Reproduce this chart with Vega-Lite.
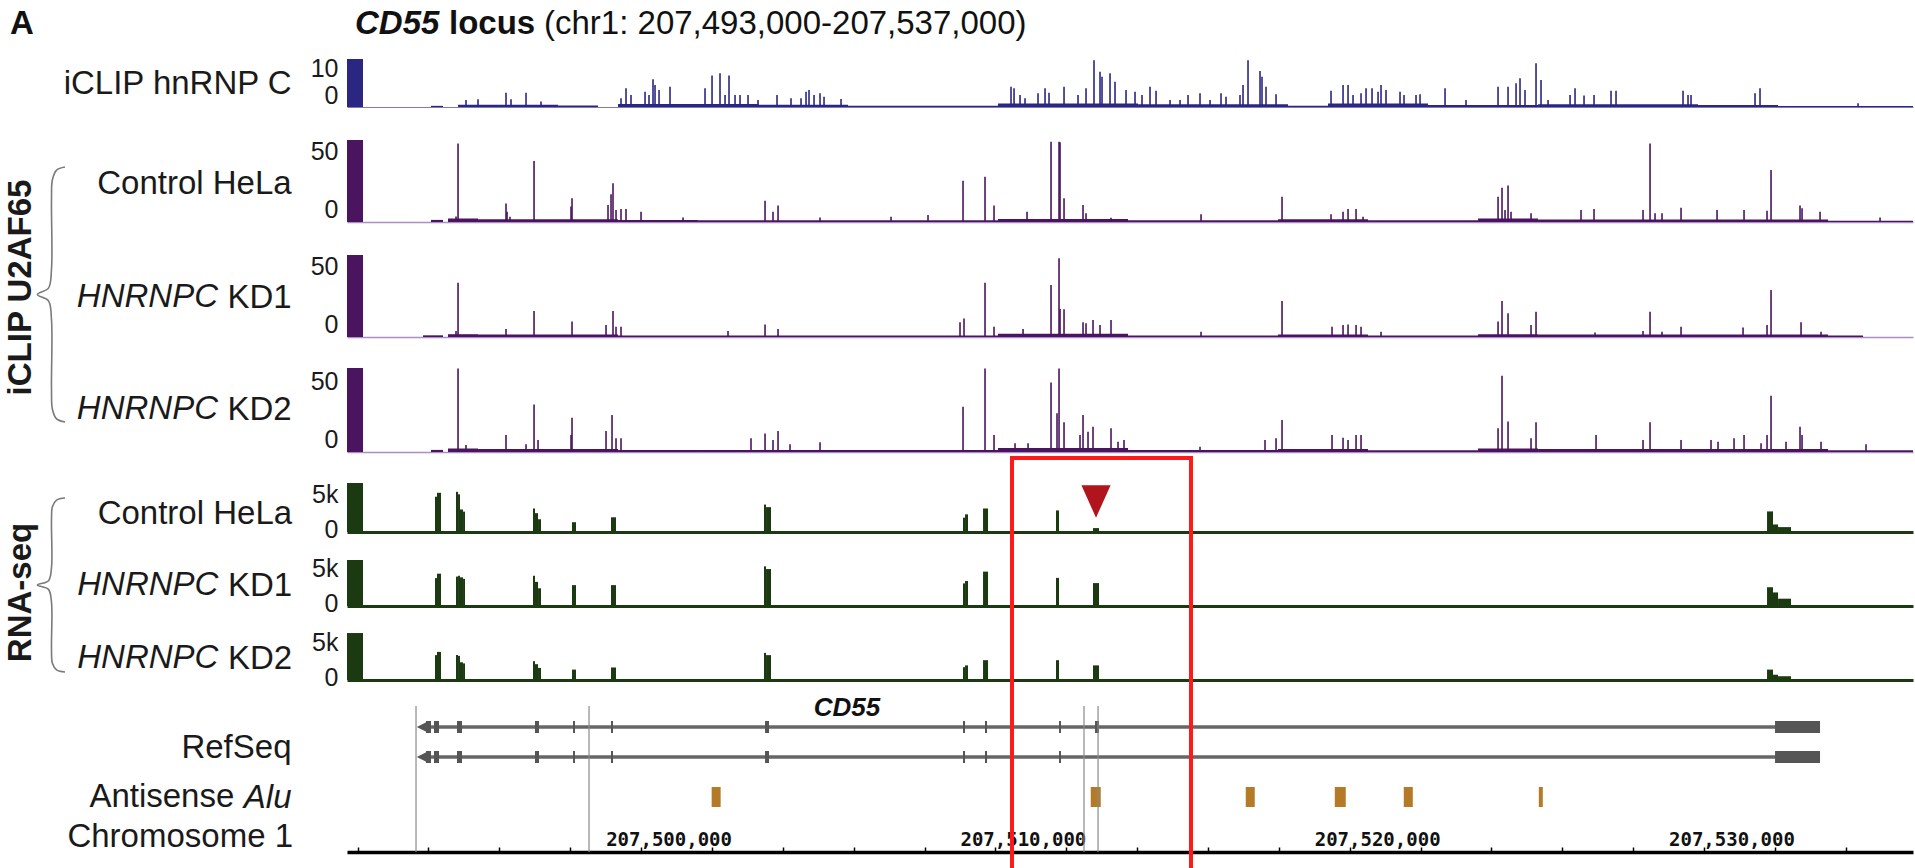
{
"$schema": "https://vega.github.io/schema/vega-lite/v6.json",
"background": "white",
"padding": {"left": 4, "top": 8, "right": 0, "bottom": 0},
"datasets": {
"spk": [
{"t":"h","p":207496059,"v":1.8},{"t":"h","p":207496398,"v":2.0},{"t":"h","p":207497188,"v":3.7},{"t":"h","p":207497329,"v":2.0},{"t":"h","p":207497753,"v":3.7},{"t":"h","p":207498176,"v":1.4},{"t":"h","p":207500434,"v":2.3},{"t":"h","p":207500575,"v":4.9},{"t":"h","p":207500716,"v":3.1},{"t":"h","p":207501112,"v":4.0},{"t":"h","p":207501224,"v":3.1},{"t":"h","p":207501337,"v":7.2},{"t":"h","p":207501394,"v":5.7},{"t":"h","p":207501507,"v":4.4},{"t":"h","p":207501817,"v":5.3},{"t":"h","p":207502805,"v":4.9},{"t":"h","p":207503003,"v":8.2},{"t":"h","p":207503228,"v":8.8},{"t":"h","p":207503370,"v":3.1},{"t":"h","p":207503482,"v":8.2},{"t":"h","p":207503652,"v":3.1},{"t":"h","p":207503793,"v":3.1},{"t":"h","p":207504019,"v":3.1},{"t":"h","p":207504301,"v":1.8},{"t":"h","p":207504837,"v":3.1},{"t":"h","p":207505232,"v":2.3},{"t":"h","p":207505515,"v":2.3},{"t":"h","p":207505656,"v":4.0},{"t":"h","p":207505740,"v":4.4},{"t":"h","p":207505882,"v":3.1},{"t":"h","p":207506051,"v":3.6},{"t":"h","p":207506164,"v":2.7},{"t":"h","p":207506644,"v":2.1},{"t":"h","p":207511442,"v":5.3},{"t":"h","p":207511527,"v":4.9},{"t":"h","p":207511696,"v":3.1},{"t":"h","p":207511837,"v":2.3},{"t":"h","p":207512204,"v":3.6},{"t":"h","p":207512402,"v":4.9},{"t":"h","p":207512514,"v":3.7},{"t":"h","p":207512938,"v":5.3},{"t":"h","p":207513333,"v":3.1},{"t":"h","p":207513559,"v":4.9},{"t":"h","p":207513784,"v":12.2},{"t":"h","p":207513954,"v":9.2},{"t":"h","p":207514010,"v":7.9},{"t":"h","p":207514236,"v":8.8},{"t":"h","p":207514377,"v":6.6},{"t":"h","p":207514688,"v":4.4},{"t":"h","p":207514942,"v":4.0},{"t":"h","p":207515139,"v":3.1},{"t":"h","p":207515365,"v":5.3},{"t":"h","p":207515535,"v":4.2},{"t":"h","p":207515930,"v":1.8},{"t":"h","p":207516212,"v":1.8},{"t":"h","p":207516438,"v":3.1},{"t":"h","p":207516776,"v":3.6},{"t":"h","p":207517059,"v":1.8},{"t":"h","p":207517369,"v":3.6},{"t":"h","p":207517510,"v":2.7},{"t":"h","p":207517905,"v":3.1},{"t":"h","p":207517990,"v":5.7},{"t":"h","p":207518131,"v":12.2},{"t":"h","p":207518470,"v":9.4},{"t":"h","p":207518526,"v":7.9},{"t":"h","p":207518639,"v":5.3},{"t":"h","p":207518922,"v":3.3},{"t":"h","p":207520474,"v":4.2},{"t":"h","p":207520813,"v":5.7},{"t":"h","p":207520954,"v":5.7},{"t":"h","p":207521095,"v":3.1},{"t":"h","p":207521321,"v":3.6},{"t":"h","p":207521462,"v":4.9},{"t":"h","p":207521631,"v":4.9},{"t":"h","p":207521801,"v":4.0},{"t":"h","p":207521885,"v":5.7},{"t":"h","p":207522026,"v":4.4},{"t":"h","p":207522421,"v":4.0},{"t":"h","p":207522534,"v":3.1},{"t":"h","p":207522873,"v":3.1},{"t":"h","p":207522986,"v":3.3},{"t":"h","p":207523692,"v":4.9},{"t":"h","p":207524284,"v":1.8},{"t":"h","p":207525188,"v":5.3},{"t":"h","p":207525470,"v":5.3},{"t":"h","p":207525696,"v":6.2},{"t":"h","p":207525808,"v":7.5},{"t":"h","p":207525949,"v":4.4},{"t":"h","p":207526260,"v":11.4},{"t":"h","p":207526401,"v":7.0},{"t":"h","p":207526599,"v":1.8},{"t":"h","p":207527220,"v":3.1},{"t":"h","p":207527361,"v":4.9},{"t":"h","p":207527615,"v":3.0},{"t":"h","p":207527897,"v":3.1},{"t":"h","p":207528377,"v":4.2},{"t":"h","p":207528518,"v":4.2},{"t":"h","p":207530409,"v":4.2},{"t":"h","p":207530550,"v":3.1},{"t":"h","p":207530635,"v":3.1},{"t":"h","p":207532441,"v":3.6},{"t":"h","p":207532582,"v":4.9},{"t":"h","p":207535349,"v":1.0},
{"t":"c","p":207495777,"v":4},{"t":"c","p":207495834,"v":56},{"t":"c","p":207497188,"v":13.3},{"t":"c","p":207497217,"v":7.4},{"t":"c","p":207497301,"v":3.8},{"t":"c","p":207497979,"v":43.6},{"t":"c","p":207499023,"v":11},{"t":"c","p":207499051,"v":16.9},{"t":"c","p":207500067,"v":12.1},{"t":"c","p":207500152,"v":19.8},{"t":"c","p":207500208,"v":27.6},{"t":"c","p":207500293,"v":8.6},{"t":"c","p":207500434,"v":9.3},{"t":"c","p":207500575,"v":9.3},{"t":"c","p":207500999,"v":7.4},{"t":"c","p":207502184,"v":3.3},{"t":"c","p":207504499,"v":15.2},{"t":"c","p":207504724,"v":7.4},{"t":"c","p":207504866,"v":11.7},{"t":"c","p":207506051,"v":3.3},{"t":"c","p":207508055,"v":3.8},{"t":"c","p":207509099,"v":5},{"t":"c","p":207510087,"v":29.5},{"t":"c","p":207510708,"v":32.4},{"t":"c","p":207510962,"v":11.7},{"t":"c","p":207511894,"v":7.4},{"t":"c","p":207512571,"v":57.4},{"t":"c","p":207512797,"v":57.4},{"t":"c","p":207512825,"v":56.9},{"t":"c","p":207512938,"v":16.9},{"t":"c","p":207513474,"v":12.1},{"t":"c","p":207513559,"v":6.2},{"t":"c","p":207514264,"v":3},{"t":"c","p":207516805,"v":5.5},{"t":"c","p":207519091,"v":18},{"t":"c","p":207520474,"v":5.5},{"t":"c","p":207520813,"v":7.4},{"t":"c","p":207520954,"v":9.3},{"t":"c","p":207521180,"v":9.3},{"t":"c","p":207521377,"v":3.8},{"t":"c","p":207525188,"v":18},{"t":"c","p":207525300,"v":24.5},{"t":"c","p":207525385,"v":8.6},{"t":"c","p":207525470,"v":26},{"t":"c","p":207525554,"v":7.4},{"t":"c","p":207526119,"v":6.2},{"t":"c","p":207527530,"v":8.6},{"t":"c","p":207527897,"v":9.3},{"t":"c","p":207529280,"v":8.6},{"t":"c","p":207529478,"v":56},{"t":"c","p":207529619,"v":6.2},{"t":"c","p":207529816,"v":6.2},{"t":"c","p":207530353,"v":10.2},{"t":"c","p":207531369,"v":8.6},{"t":"c","p":207532131,"v":8.6},{"t":"c","p":207532780,"v":8},{"t":"c","p":207532893,"v":37.1},{"t":"c","p":207533711,"v":11.7},{"t":"c","p":207533768,"v":9.8},{"t":"c","p":207534276,"v":7.4},{"t":"c","p":207535970,"v":3.3},
{"t":"k1","p":207495777,"v":4.3},{"t":"k1","p":207495834,"v":38.8},{"t":"k1","p":207497188,"v":5.7},{"t":"k1","p":207497979,"v":18.6},{"t":"k1","p":207499051,"v":11},{"t":"k1","p":207500011,"v":8.6},{"t":"k1","p":207500208,"v":18.6},{"t":"k1","p":207500293,"v":7.4},{"t":"k1","p":207500434,"v":7.4},{"t":"k1","p":207503454,"v":4.3},{"t":"k1","p":207504499,"v":9},{"t":"k1","p":207504866,"v":5.7},{"t":"k1","p":207510002,"v":10.5},{"t":"k1","p":207510115,"v":13.3},{"t":"k1","p":207510708,"v":38.8},{"t":"k1","p":207510962,"v":7.4},{"t":"k1","p":207511781,"v":5.7},{"t":"k1","p":207512571,"v":37.1},{"t":"k1","p":207512797,"v":56.2},{"t":"k1","p":207512825,"v":20},{"t":"k1","p":207512938,"v":19.8},{"t":"k1","p":207513474,"v":10.5},{"t":"k1","p":207513559,"v":9.8},{"t":"k1","p":207513756,"v":12.1},{"t":"k1","p":207513954,"v":8.6},{"t":"k1","p":207514264,"v":12.1},{"t":"k1","p":207516805,"v":3.8},{"t":"k1","p":207519091,"v":25.7},{"t":"k1","p":207520502,"v":7.4},{"t":"k1","p":207520813,"v":8.6},{"t":"k1","p":207520954,"v":9},{"t":"k1","p":207521180,"v":8.6},{"t":"k1","p":207521321,"v":7.4},{"t":"k1","p":207521885,"v":3.8},{"t":"k1","p":207525188,"v":11},{"t":"k1","p":207525300,"v":25.7},{"t":"k1","p":207525470,"v":16.9},{"t":"k1","p":207526119,"v":8.6},{"t":"k1","p":207526260,"v":18},{"t":"k1","p":207527925,"v":3.3},{"t":"k1","p":207529280,"v":4.3},{"t":"k1","p":207529478,"v":18},{"t":"k1","p":207529816,"v":3.8},{"t":"k1","p":207530353,"v":7.4},{"t":"k1","p":207532103,"v":6.7},{"t":"k1","p":207532780,"v":8.6},{"t":"k1","p":207532893,"v":33.6},{"t":"k1","p":207533740,"v":10.5},{"t":"k1","p":207534304,"v":3.8},
{"t":"k2","p":207495834,"v":59.7},{"t":"k2","p":207496059,"v":5},{"t":"k2","p":207497188,"v":12.1},{"t":"k2","p":207497753,"v":5.5},{"t":"k2","p":207497979,"v":34},{"t":"k2","p":207498092,"v":8.6},{"t":"k2","p":207499023,"v":12.1},{"t":"k2","p":207499051,"v":24.5},{"t":"k2","p":207500011,"v":15},{"t":"k2","p":207500180,"v":26.4},{"t":"k2","p":207500293,"v":9.8},{"t":"k2","p":207500434,"v":9.8},{"t":"k2","p":207504103,"v":9.8},{"t":"k2","p":207504499,"v":13.3},{"t":"k2","p":207504724,"v":8.6},{"t":"k2","p":207504866,"v":15},{"t":"k2","p":207505204,"v":5.5},{"t":"k2","p":207506051,"v":6.9},{"t":"k2","p":207510087,"v":32.4},{"t":"k2","p":207510708,"v":59.7},{"t":"k2","p":207510962,"v":12.1},{"t":"k2","p":207511555,"v":6.2},{"t":"k2","p":207511922,"v":6.2},{"t":"k2","p":207512571,"v":49.7},{"t":"k2","p":207512740,"v":27.6},{"t":"k2","p":207512797,"v":59.7},{"t":"k2","p":207512938,"v":21.2},{"t":"k2","p":207513389,"v":12.1},{"t":"k2","p":207513474,"v":26.4},{"t":"k2","p":207513615,"v":14.5},{"t":"k2","p":207513756,"v":18},{"t":"k2","p":207514264,"v":16.9},{"t":"k2","p":207514462,"v":7.4},{"t":"k2","p":207514631,"v":8.6},{"t":"k2","p":207516776,"v":3.8},{"t":"k2","p":207518611,"v":8.6},{"t":"k2","p":207518922,"v":9.8},{"t":"k2","p":207519091,"v":22.8},{"t":"k2","p":207520502,"v":12.1},{"t":"k2","p":207520813,"v":10.2},{"t":"k2","p":207520954,"v":8.6},{"t":"k2","p":207521180,"v":12.1},{"t":"k2","p":207521321,"v":12.1},{"t":"k2","p":207525188,"v":16.9},{"t":"k2","p":207525300,"v":54.5},{"t":"k2","p":207525470,"v":21.7},{"t":"k2","p":207526119,"v":9.8},{"t":"k2","p":207526260,"v":21.2},{"t":"k2","p":207527954,"v":12.1},{"t":"k2","p":207529280,"v":8.6},{"t":"k2","p":207529478,"v":21.2},{"t":"k2","p":207530353,"v":8.6},{"t":"k2","p":207531199,"v":8.6},{"t":"k2","p":207531397,"v":7.4},{"t":"k2","p":207531849,"v":9.8},{"t":"k2","p":207532131,"v":12.1},{"t":"k2","p":207532611,"v":6.2},{"t":"k2","p":207532780,"v":12.1},{"t":"k2","p":207532893,"v":40.2},{"t":"k2","p":207533316,"v":7.4},{"t":"k2","p":207533711,"v":18},{"t":"k2","p":207533768,"v":12.1},{"t":"k2","p":207534304,"v":7.4},{"t":"k2","p":207535574,"v":5.5}
],
"blk": [
{"t":"h","s":207492700,"e":207493152,"v":12.5},{"t":"h","s":207495071,"e":207495410,"v":0.3},{"t":"h","s":207495834,"e":207496963,"v":0.6},{"t":"h","s":207496963,"e":207498656,"v":0.6},{"t":"h","s":207498656,"e":207499785,"v":0.4},{"t":"h","s":207500350,"e":207504301,"v":0.8},{"t":"h","s":207504301,"e":207506841,"v":0.6},{"t":"h","s":207506841,"e":207511075,"v":0.3},{"t":"h","s":207511075,"e":207515027,"v":0.9},{"t":"h","s":207515027,"e":207519260,"v":0.7},{"t":"h","s":207519260,"e":207520389,"v":0.35},{"t":"h","s":207520389,"e":207523212,"v":0.9},{"t":"h","s":207523212,"e":207526317,"v":0.5},{"t":"h","s":207526317,"e":207530833,"v":0.7},{"t":"h","s":207530833,"e":207533091,"v":0.5},{"t":"h","s":207533091,"e":207536901,"v":0.25},
{"t":"c","s":207492700,"e":207493152,"v":58.6},{"t":"c","s":207495071,"e":207495410,"v":1.5},{"t":"c","s":207495551,"e":207496398,"v":2.5},{"t":"c","s":207496398,"e":207500350,"v":2.0},{"t":"c","s":207500350,"e":207502608,"v":1.5},{"t":"c","s":207502608,"e":207511075,"v":1.2},{"t":"c","s":207511075,"e":207514744,"v":2.2},{"t":"c","s":207514744,"e":207518978,"v":1.3},{"t":"c","s":207518978,"e":207521518,"v":2.0},{"t":"c","s":207521518,"e":207524623,"v":1.2},{"t":"c","s":207524623,"e":207526317,"v":2.5},{"t":"c","s":207526317,"e":207534502,"v":1.8},{"t":"c","s":207534502,"e":207536901,"v":0.9},
{"t":"k1","s":207492700,"e":207493152,"v":58.6},{"t":"k1","s":207494846,"e":207495410,"v":1.2},{"t":"k1","s":207495551,"e":207496398,"v":2.0},{"t":"k1","s":207496398,"e":207500350,"v":1.8},{"t":"k1","s":207500350,"e":207511075,"v":1.0},{"t":"k1","s":207511075,"e":207514744,"v":2.4},{"t":"k1","s":207514744,"e":207518978,"v":1.0},{"t":"k1","s":207518978,"e":207521518,"v":1.8},{"t":"k1","s":207521518,"e":207524623,"v":1.0},{"t":"k1","s":207524623,"e":207526317,"v":2.0},{"t":"k1","s":207526317,"e":207534502,"v":1.8},{"t":"k1","s":207534502,"e":207535490,"v":1.0},
{"t":"k2","s":207492700,"e":207493152,"v":60},{"t":"k2","s":207495071,"e":207495410,"v":1.5},{"t":"k2","s":207495551,"e":207496398,"v":2.5},{"t":"k2","s":207496398,"e":207500350,"v":2.2},{"t":"k2","s":207500350,"e":207502608,"v":1.5},{"t":"k2","s":207502608,"e":207511075,"v":1.5},{"t":"k2","s":207511075,"e":207514744,"v":2.8},{"t":"k2","s":207514744,"e":207518978,"v":1.5},{"t":"k2","s":207518978,"e":207521518,"v":2.2},{"t":"k2","s":207521518,"e":207524623,"v":1.3},{"t":"k2","s":207524623,"e":207526317,"v":2.5},{"t":"k2","s":207526317,"e":207534502,"v":2.2},{"t":"k2","s":207534502,"e":207536901,"v":1.2}
],
"rna": [
{"t":"rc","s":207492700,"e":207493152,"v":6500},{"t":"rc","s":207495184,"e":207495241,"v":4680},{"t":"rc","s":207495241,"e":207495354,"v":5200},{"t":"rc","s":207495777,"e":207495834,"v":5330},{"t":"rc","s":207495834,"e":207495890,"v":5000},{"t":"rc","s":207495890,"e":207495975,"v":2990},{"t":"rc","s":207495975,"e":207496031,"v":2700},{"t":"rc","s":207497950,"e":207498007,"v":3120},{"t":"rc","s":207498007,"e":207498092,"v":2500},{"t":"rc","s":207498092,"e":207498176,"v":1690},{"t":"rc","s":207499051,"e":207499164,"v":1300},{"t":"rc","s":207500152,"e":207500293,"v":1950},{"t":"rc","s":207504470,"e":207504527,"v":3640},{"t":"rc","s":207504527,"e":207504668,"v":3300},{"t":"rc","s":207510087,"e":207510144,"v":1900},{"t":"rc","s":207510144,"e":207510228,"v":2340},{"t":"rc","s":207510652,"e":207510793,"v":3120},{"t":"rc","s":207512712,"e":207512797,"v":2860},{"t":"rc","s":207513756,"e":207513926,"v":520},{"t":"rc","s":207532780,"e":207532949,"v":2730},{"t":"rc","s":207532949,"e":207533091,"v":1000},{"t":"rc","s":207533091,"e":207533457,"v":650},
{"t":"r1","s":207492700,"e":207493152,"v":6100},{"t":"r1","s":207495184,"e":207495241,"v":3700},{"t":"r1","s":207495241,"e":207495354,"v":4290},{"t":"r1","s":207495777,"e":207495834,"v":3900},{"t":"r1","s":207495834,"e":207495890,"v":4010},{"t":"r1","s":207495890,"e":207495975,"v":3800},{"t":"r1","s":207495975,"e":207496031,"v":3600},{"t":"r1","s":207497950,"e":207498007,"v":4010},{"t":"r1","s":207498007,"e":207498092,"v":3200},{"t":"r1","s":207498092,"e":207498176,"v":2350},{"t":"r1","s":207499051,"e":207499164,"v":2770},{"t":"r1","s":207500152,"e":207500293,"v":2770},{"t":"r1","s":207504470,"e":207504527,"v":5260},{"t":"r1","s":207504527,"e":207504668,"v":4900},{"t":"r1","s":207510087,"e":207510144,"v":3000},{"t":"r1","s":207510144,"e":207510228,"v":3320},{"t":"r1","s":207510652,"e":207510793,"v":4560},{"t":"r1","s":207512712,"e":207512797,"v":3730},{"t":"r1","s":207513756,"e":207513926,"v":3040},{"t":"r1","s":207532780,"e":207532949,"v":2490},{"t":"r1","s":207532949,"e":207533091,"v":1800},{"t":"r1","s":207533091,"e":207533457,"v":970},
{"t":"r2","s":207492700,"e":207493152,"v":6230},{"t":"r2","s":207495184,"e":207495241,"v":3300},{"t":"r2","s":207495241,"e":207495354,"v":3730},{"t":"r2","s":207495777,"e":207495834,"v":3320},{"t":"r2","s":207495834,"e":207495890,"v":3200},{"t":"r2","s":207495890,"e":207495975,"v":2350},{"t":"r2","s":207495975,"e":207496031,"v":2200},{"t":"r2","s":207497950,"e":207498007,"v":2490},{"t":"r2","s":207498007,"e":207498092,"v":2100},{"t":"r2","s":207498092,"e":207498176,"v":1600},{"t":"r2","s":207499051,"e":207499164,"v":1380},{"t":"r2","s":207500152,"e":207500293,"v":1660},{"t":"r2","s":207504470,"e":207504527,"v":3600},{"t":"r2","s":207504527,"e":207504668,"v":3300},{"t":"r2","s":207510087,"e":207510144,"v":1700},{"t":"r2","s":207510144,"e":207510228,"v":1940},{"t":"r2","s":207510652,"e":207510793,"v":2630},{"t":"r2","s":207512712,"e":207512797,"v":2630},{"t":"r2","s":207513756,"e":207513926,"v":1940},{"t":"r2","s":207532780,"e":207532949,"v":1380},{"t":"r2","s":207532949,"e":207533091,"v":700},{"t":"r2","s":207533091,"e":207533457,"v":500}
],
"tx": [{"tx":"tx1","s":207494817,"e":207534276},{"tx":"tx2","s":207494817,"e":207534276}],
"exon": [
{"tx":"tx1","s":207494930,"e":207495071},{"tx":"tx1","s":207495156,"e":207495297},{"tx":"tx1","s":207495805,"e":207495946},{"tx":"tx1","s":207498007,"e":207498120},{"tx":"tx1","s":207499080,"e":207499136},{"tx":"tx1","s":207500152,"e":207500208},{"tx":"tx1","s":207504499,"e":207504611},{"tx":"tx1","s":207510087,"e":207510144},{"tx":"tx1","s":207510708,"e":207510765},{"tx":"tx1","s":207512797,"e":207512853},{"tx":"tx1","s":207513813,"e":207513926},{"tx":"tx1","s":207533006,"e":207534276},
{"tx":"tx2","s":207494930,"e":207495071},{"tx":"tx2","s":207495156,"e":207495297},{"tx":"tx2","s":207495805,"e":207495946},{"tx":"tx2","s":207498007,"e":207498120},{"tx":"tx2","s":207499080,"e":207499136},{"tx":"tx2","s":207500152,"e":207500208},{"tx":"tx2","s":207504499,"e":207504611},{"tx":"tx2","s":207510087,"e":207510144},{"tx":"tx2","s":207510708,"e":207510765},{"tx":"tx2","s":207512797,"e":207512853},{"tx":"tx2","s":207533006,"e":207534276}
],
"alu": [{"k":"Alu","s":207502992,"e":207503246},{"k":"Alu","s":207513692,"e":207513974},{"k":"Alu","s":207518067,"e":207518321},{"k":"Alu","s":207520580,"e":207520890},{"k":"Alu","s":207522527,"e":207522782},{"k":"Alu","s":207526339,"e":207526451}],
"zoomlines": [{"p":207494648},{"p":207499531},{"p":207513502},{"p":207513898}],
"redbox": [{"p":207511470},{"p":207516522}],
"brace": [{"i":0,"x":1.0,"y":0.0},{"i":1,"x":0.72,"y":0.012},{"i":2,"x":0.58,"y":0.05},{"i":3,"x":0.55,"y":0.13},{"i":4,"x":0.55,"y":0.4},{"i":5,"x":0.45,"y":0.475},{"i":6,"x":0.08,"y":0.5},{"i":7,"x":0.45,"y":0.525},{"i":8,"x":0.55,"y":0.6},{"i":9,"x":0.55,"y":0.87},{"i":10,"x":0.58,"y":0.95},{"i":11,"x":0.72,"y":0.988},{"i":12,"x":1.0,"y":1.0}]
},
"spacing": -8,
"hconcat": [
{
"spacing": 0,
"bounds": "flush",
"vconcat": [
{"width": 30, "height": 48, "data": {"values": [{}]},
 "mark": {"type": "text", "text": "A", "fontSize": 33, "fontWeight": "bold", "align": "left", "baseline": "alphabetic", "color": "#111"},
 "encoding": {
  "x": {"datum": -0.833, "type": "quantitative", "scale": {"domain": [0, 1], "nice": false, "zero": false}, "axis": null},
  "y": {"datum": 19, "type": "quantitative", "scale": {"domain": [0, 12.5], "nice": false}, "axis": null}}},
{"width": 30, "height": 345, "data": {"name": "brace"},
 "mark": {"type": "line", "interpolate": "catmull-rom", "color": "#7a7a7a", "strokeWidth": 1.6},
 "encoding": {
  "x": {"field": "x", "type": "quantitative", "scale": {"domain": [0, 1], "nice": false, "zero": false}, "axis": null},
  "y": {"field": "y", "type": "quantitative", "scale": {"domain": [-0.2353, 1.1176], "reverse": true, "nice": false, "zero": false},
        "axis": {"labels": false, "ticks": false, "domain": false, "grid": false, "title": "iCLIP U2AF65", "titleFontSize": 33, "titleFontWeight": "bold", "titleBaseline": "alphabetic", "titlePadding": 5, "titleY": 180, "titleAngle": -90}},
  "order": {"field": "i", "type": "quantitative"}}},
{"width": 30, "height": 416, "data": {"name": "brace"},
 "mark": {"type": "line", "interpolate": "catmull-rom", "color": "#7a7a7a", "strokeWidth": 1.6},
 "encoding": {
  "x": {"field": "x", "type": "quantitative", "scale": {"domain": [0, 1], "nice": false, "zero": false}, "axis": null},
  "y": {"field": "y", "type": "quantitative", "scale": {"domain": [-0.2644, 2.1264], "reverse": true, "nice": false, "zero": false},
        "axis": {"labels": false, "ticks": false, "domain": false, "grid": false, "title": "RNA-seq", "titleFontSize": 33, "titleFontWeight": "bold", "titleBaseline": "alphabetic", "titlePadding": 5, "titleY": 140, "titleAngle": -90}},
  "order": {"field": "i", "type": "quantitative"}}}
]
},
{
"spacing": 0,
"bounds": "flush",
"vconcat": [
{"width": 1566, "height": 48,
 "layer": [
  {"data": {"name": "blk"}, "transform": [{"filter": "datum.t=='h'"}],
   "mark": {"type": "rect", "color": "#2a2682"},
   "encoding": {
    "x": {"field": "s", "type": "quantitative", "scale": {"domain": [207492700, 207536900], "nice": false, "zero": false}, "axis": {"labels": false, "ticks": false, "title": null, "grid": false, "domainColor": "#7d7ac2", "domainWidth": 1.2}},
    "x2": {"field": "e"},
    "y": {"field": "v", "type": "quantitative", "scale": {"domain": [0, 12.5], "nice": false},
          "axis": {"values": [0, 10], "labelFontSize": 25, "labelPadding": 9, "ticks": false, "domain": false, "labelOffset": {"condition": {"test": "datum.value == 0", "value": -12}, "value": 0}, "title": "iCLIP hnRNP C", "titleAngle": 0, "titleAlign": "right", "titleBaseline": "middle", "titleFontSize": 33, "titleFontWeight": "normal", "titlePadding": 19}},
    "y2": {"datum": 0}}},
  {"data": {"name": "spk"}, "transform": [{"filter": "datum.t=='h'"}],
   "mark": {"type": "rule", "color": "#2a2682", "strokeWidth": 1.6},
   "encoding": {
    "x": {"field": "p", "type": "quantitative", "scale": {"domain": [207492700, 207536900], "nice": false, "zero": false}},
    "y": {"field": "v", "type": "quantitative", "scale": {"domain": [0, 12.5], "nice": false}},
    "y2": {"datum": 0}}},
  {"data": {"values": [{}]},
   "mark": {"type": "text", "text": "CD55", "fontSize": 33, "fontStyle": "italic", "fontWeight": "bold", "align": "left", "baseline": "alphabetic", "color": "#111"},
   "encoding": {"x": {"datum": 207492926, "type": "quantitative", "scale": {"domain": [207492700, 207536900], "nice": false, "zero": false}}, "y": {"datum": 19, "type": "quantitative"}}},
  {"data": {"values": [{}]},
   "mark": {"type": "text", "text": "locus", "fontSize": 33, "fontWeight": "bold", "align": "left", "baseline": "alphabetic", "dx": 94, "color": "#111"},
   "encoding": {"x": {"datum": 207492926, "type": "quantitative"}, "y": {"datum": 19, "type": "quantitative"}}},
  {"data": {"values": [{}]},
   "mark": {"type": "text", "text": "(chr1: 207,493,000-207,537,000)", "fontSize": 33, "fontWeight": "normal", "align": "left", "baseline": "alphabetic", "dx": 189, "color": "#111"},
   "encoding": {"x": {"datum": 207492926, "type": "quantitative"}, "y": {"datum": 19, "type": "quantitative"}}}
 ]},
{"width": 1566, "height": 115,
 "layer": [
  {"data": {"name": "blk"}, "transform": [{"filter": "datum.t=='c'"}],
   "mark": {"type": "rect", "color": "#4b145f"},
   "encoding": {
    "x": {"field": "s", "type": "quantitative", "scale": {"domain": [207492700, 207536900], "nice": false, "zero": false}, "axis": {"labels": false, "ticks": false, "title": null, "grid": false, "domainColor": "#a98fc4", "domainWidth": 1.5}},
    "x2": {"field": "e"},
    "y": {"field": "v", "type": "quantitative", "scale": {"domain": [0, 82.14], "nice": false},
          "axis": {"values": [0, 50], "labelFontSize": 25, "labelPadding": 9, "ticks": false, "domain": false, "labelOffset": {"condition": {"test": "datum.value == 0", "value": -13}, "value": 0}, "title": "Control HeLa", "titleAngle": 0, "titleAlign": "right", "titleBaseline": "middle", "titleFontSize": 33, "titleFontWeight": "normal", "titlePadding": 19, "titleY": 76}},
    "y2": {"datum": 0}}},
  {"data": {"name": "spk"}, "transform": [{"filter": "datum.t=='c'"}],
   "mark": {"type": "rule", "color": "#4b145f", "strokeWidth": 1.6},
   "encoding": {
    "x": {"field": "p", "type": "quantitative", "scale": {"domain": [207492700, 207536900], "nice": false, "zero": false}},
    "y": {"field": "v", "type": "quantitative", "scale": {"domain": [0, 82.14], "nice": false}},
    "y2": {"datum": 0}}}
 ]},
{"width": 1566, "height": 115,
 "title": {"text": "HNRNPC", "orient": "left", "angle": 0, "align": "left", "baseline": "middle", "anchor": "middle", "frame": "group", "fontSize": 33, "fontStyle": "italic", "fontWeight": "normal", "offset": 9, "dy": 17.5},
 "layer": [
  {"data": {"name": "blk"}, "transform": [{"filter": "datum.t=='k1'"}],
   "mark": {"type": "rect", "color": "#4b145f"},
   "encoding": {
    "x": {"field": "s", "type": "quantitative", "scale": {"domain": [207492700, 207536900], "nice": false, "zero": false}, "axis": {"labels": false, "ticks": false, "title": null, "grid": false, "domainColor": "#a98fc4", "domainWidth": 1.5}},
    "x2": {"field": "e"},
    "y": {"field": "v", "type": "quantitative", "scale": {"domain": [0, 82.14], "nice": false},
          "axis": {"values": [0, 50], "labelFontSize": 25, "labelPadding": 9, "ticks": false, "domain": false, "labelOffset": {"condition": {"test": "datum.value == 0", "value": -13}, "value": 0}, "title": "KD1", "titleAngle": 0, "titleAlign": "right", "titleBaseline": "middle", "titleFontSize": 33, "titleFontWeight": "normal", "titlePadding": 19, "titleY": 75}},
    "y2": {"datum": 0}}},
  {"data": {"name": "spk"}, "transform": [{"filter": "datum.t=='k1'"}],
   "mark": {"type": "rule", "color": "#4b145f", "strokeWidth": 1.6},
   "encoding": {
    "x": {"field": "p", "type": "quantitative", "scale": {"domain": [207492700, 207536900], "nice": false, "zero": false}},
    "y": {"field": "v", "type": "quantitative", "scale": {"domain": [0, 82.14], "nice": false}},
    "y2": {"datum": 0}}}
 ]},
{"width": 1566, "height": 115,
 "title": {"text": "HNRNPC", "orient": "left", "angle": 0, "align": "left", "baseline": "middle", "anchor": "middle", "frame": "group", "fontSize": 33, "fontStyle": "italic", "fontWeight": "normal", "offset": 9, "dy": 14.5},
 "layer": [
  {"data": {"name": "blk"}, "transform": [{"filter": "datum.t=='k2'"}],
   "mark": {"type": "rect", "color": "#4b145f"},
   "encoding": {
    "x": {"field": "s", "type": "quantitative", "scale": {"domain": [207492700, 207536900], "nice": false, "zero": false}, "axis": {"labels": false, "ticks": false, "title": null, "grid": false, "domainColor": "#a98fc4", "domainWidth": 1.5}},
    "x2": {"field": "e"},
    "y": {"field": "v", "type": "quantitative", "scale": {"domain": [0, 82.14], "nice": false},
          "axis": {"values": [0, 50], "labelFontSize": 25, "labelPadding": 9, "ticks": false, "domain": false, "labelOffset": {"condition": {"test": "datum.value == 0", "value": -13}, "value": 0}, "title": "KD2", "titleAngle": 0, "titleAlign": "right", "titleBaseline": "middle", "titleFontSize": 33, "titleFontWeight": "normal", "titlePadding": 19, "titleY": 72}},
    "y2": {"datum": 0}}},
  {"data": {"name": "spk"}, "transform": [{"filter": "datum.t=='k2'"}],
   "mark": {"type": "rule", "color": "#4b145f", "strokeWidth": 1.6},
   "encoding": {
    "x": {"field": "p", "type": "quantitative", "scale": {"domain": [207492700, 207536900], "nice": false, "zero": false}},
    "y": {"field": "v", "type": "quantitative", "scale": {"domain": [0, 82.14], "nice": false}},
    "y2": {"datum": 0}}}
 ]},
{"width": 1566, "height": 80,
 "layer": [
  {"data": {"name": "rna"}, "transform": [{"filter": "datum.t=='rc'"}],
   "mark": {"type": "rect", "color": "#1c3a12"},
   "encoding": {
    "x": {"field": "s", "type": "quantitative", "scale": {"domain": [207492700, 207536900], "nice": false, "zero": false}, "axis": {"labels": false, "ticks": false, "title": null, "grid": false, "domainColor": "#1c3a12", "domainWidth": 3}},
    "x2": {"field": "e"},
    "y": {"field": "v", "type": "quantitative", "scale": {"domain": [0, 10612], "nice": false},
          "axis": {"values": [0, 5000], "labelExpr": "datum.value == 5000 ? '5k' : '0'", "labelFontSize": 25, "labelPadding": 9, "ticks": false, "domain": false, "labelOffset": {"condition": {"test": "datum.value == 0", "value": -3}, "value": 0}, "title": "Control HeLa", "titleAngle": 0, "titleAlign": "right", "titleBaseline": "middle", "titleFontSize": 33, "titleFontWeight": "normal", "titlePadding": 20, "titleY": 61}},
    "y2": {"datum": 0}}},
  {"data": {"name": "redbox"},
   "mark": {"type": "rule", "color": "#ff1a1a", "strokeWidth": 4},
   "encoding": {"x": {"field": "p", "type": "quantitative", "scale": {"domain": [207492700, 207536900], "nice": false, "zero": false}}, "y": {"datum": 9816, "type": "quantitative"}, "y2": {"datum": 0}}},
  {"data": {"values": [{}]},
   "mark": {"type": "rule", "color": "#ff1a1a", "strokeWidth": 4, "strokeCap": "square"},
   "encoding": {"x": {"datum": 207511470, "type": "quantitative"}, "x2": {"datum": 207516522}, "y": {"datum": 9816, "type": "quantitative"}}},
  {"data": {"values": [{}]},
   "mark": {"type": "point", "shape": "M-0.9,-1L0.9,-1L0,1Z", "filled": true, "size": 1050, "color": "#b0141c", "opacity": 1},
   "encoding": {"x": {"datum": 207513841, "type": "quantitative"}, "y": {"datum": 4046, "type": "quantitative"}}}
 ]},
{"width": 1566, "height": 74,
 "title": {"text": "HNRNPC", "orient": "left", "angle": 0, "align": "left", "baseline": "middle", "anchor": "middle", "frame": "group", "fontSize": 33, "fontStyle": "italic", "fontWeight": "normal", "offset": 9, "dy": 16},
 "layer": [
  {"data": {"name": "rna"}, "transform": [{"filter": "datum.t=='r1'"}],
   "mark": {"type": "rect", "color": "#1c3a12"},
   "encoding": {
    "x": {"field": "s", "type": "quantitative", "scale": {"domain": [207492700, 207536900], "nice": false, "zero": false}, "axis": {"labels": false, "ticks": false, "title": null, "grid": false, "domainColor": "#1c3a12", "domainWidth": 3}},
    "x2": {"field": "e"},
    "y": {"field": "v", "type": "quantitative", "scale": {"domain": [0, 9816], "nice": false},
          "axis": {"values": [0, 5000], "labelExpr": "datum.value == 5000 ? '5k' : '0'", "labelFontSize": 25, "labelPadding": 9, "ticks": false, "domain": false, "labelOffset": {"condition": {"test": "datum.value == 0", "value": -3}, "value": 0}, "title": "KD1", "titleAngle": 0, "titleAlign": "right", "titleBaseline": "middle", "titleFontSize": 33, "titleFontWeight": "normal", "titlePadding": 20, "titleY": 53}},
    "y2": {"datum": 0}}},
  {"data": {"name": "redbox"},
   "mark": {"type": "rule", "color": "#ff1a1a", "strokeWidth": 4},
   "encoding": {"x": {"field": "p", "type": "quantitative", "scale": {"domain": [207492700, 207536900], "nice": false, "zero": false}}}}
 ]},
{"width": 1566, "height": 74,
 "title": {"text": "HNRNPC", "orient": "left", "angle": 0, "align": "left", "baseline": "middle", "anchor": "middle", "frame": "group", "fontSize": 33, "fontStyle": "italic", "fontWeight": "normal", "offset": 9, "dy": 15},
 "layer": [
  {"data": {"name": "rna"}, "transform": [{"filter": "datum.t=='r2'"}],
   "mark": {"type": "rect", "color": "#1c3a12"},
   "encoding": {
    "x": {"field": "s", "type": "quantitative", "scale": {"domain": [207492700, 207536900], "nice": false, "zero": false}, "axis": {"labels": false, "ticks": false, "title": null, "grid": false, "domainColor": "#1c3a12", "domainWidth": 3}},
    "x2": {"field": "e"},
    "y": {"field": "v", "type": "quantitative", "scale": {"domain": [0, 9816], "nice": false},
          "axis": {"values": [0, 5000], "labelExpr": "datum.value == 5000 ? '5k' : '0'", "labelFontSize": 25, "labelPadding": 9, "ticks": false, "domain": false, "labelOffset": {"condition": {"test": "datum.value == 0", "value": -3}, "value": 0}, "title": "KD2", "titleAngle": 0, "titleAlign": "right", "titleBaseline": "middle", "titleFontSize": 33, "titleFontWeight": "normal", "titlePadding": 20, "titleY": 52}},
    "y2": {"datum": 0}}},
  {"data": {"name": "redbox"},
   "mark": {"type": "rule", "color": "#ff1a1a", "strokeWidth": 4},
   "encoding": {"x": {"field": "p", "type": "quantitative", "scale": {"domain": [207492700, 207536900], "nice": false, "zero": false}}}}
 ]},
{"width": 1566, "height": 26, "data": {"name": "redbox"},
 "mark": {"type": "rule", "color": "#ff1a1a", "strokeWidth": 4},
 "encoding": {"x": {"field": "p", "type": "quantitative", "scale": {"domain": [207492700, 207536900], "nice": false, "zero": false}, "axis": null}}},
{"width": 1566, "height": 81,
 "layer": [
  {"data": {"name": "tx"},
   "mark": {"type": "rule", "color": "#666666", "strokeWidth": 3.5},
   "encoding": {
    "x": {"field": "s", "type": "quantitative", "scale": {"domain": [207492700, 207536900], "nice": false, "zero": false}, "axis": null},
    "x2": {"field": "e"},
    "y": {"field": "tx", "type": "nominal", "scale": {"type": "band", "domain": ["tx1", "tx2"], "range": [0, 72], "paddingInner": 0.6, "paddingOuter": 0.5},
          "axis": {"labels": false, "ticks": false, "domain": false, "title": "RefSeq", "titleAngle": 0, "titleAlign": "right", "titleBaseline": "middle", "titleFontSize": 33, "titleFontWeight": "normal", "titlePadding": 56, "titleY": 41}}}},
  {"data": {"name": "exon"},
   "mark": {"type": "rect", "color": "#555555"},
   "encoding": {
    "x": {"field": "s", "type": "quantitative", "scale": {"domain": [207492700, 207536900], "nice": false, "zero": false}},
    "x2": {"field": "e"},
    "y": {"field": "tx", "type": "nominal"}}},
  {"data": {"name": "tx"},
   "mark": {"type": "point", "shape": "M1,-1L-1,0L1,1Z", "filled": true, "size": 110, "color": "#555555", "opacity": 1},
   "encoding": {
    "x": {"field": "s", "type": "quantitative", "scale": {"domain": [207492700, 207536900], "nice": false, "zero": false}},
    "y": {"field": "tx", "type": "nominal"}}},
  {"data": {"values": [{}]},
   "mark": {"type": "text", "text": "CD55", "fontSize": 26, "fontStyle": "italic", "fontWeight": "bold", "align": "center", "baseline": "middle", "dy": -19, "color": "#111"},
   "encoding": {"x": {"datum": 207506813, "type": "quantitative"}, "y": {"datum": "tx1", "type": "nominal"}}},
  {"data": {"name": "zoomlines"},
   "mark": {"type": "rule", "color": "#8a8a8a", "strokeWidth": 1.2},
   "encoding": {"x": {"field": "p", "type": "quantitative", "scale": {"domain": [207492700, 207536900], "nice": false, "zero": false}}}},
  {"data": {"name": "redbox"},
   "mark": {"type": "rule", "color": "#ff1a1a", "strokeWidth": 4},
   "encoding": {"x": {"field": "p", "type": "quantitative", "scale": {"domain": [207492700, 207536900], "nice": false, "zero": false}}}}
 ]},
{"width": 1566, "height": 20,
 "title": {"text": "Antisense", "orient": "left", "angle": 0, "align": "left", "baseline": "middle", "anchor": "middle", "frame": "group", "fontSize": 33, "fontWeight": "normal", "offset": 9},
 "layer": [
  {"data": {"name": "alu"},
   "mark": {"type": "rect", "color": "#b47a27"},
   "encoding": {
    "x": {"field": "s", "type": "quantitative", "scale": {"domain": [207492700, 207536900], "nice": false, "zero": false},
      "axis": {"orient": "bottom", "values": [207500000, 207510000, 207520000, 207530000], "format": ",.0f", "ticks": false, "domain": false, "grid": false, "title": null,
        "labelPadding": 38, "labelBaseline": "alphabetic", "labelAlign": "left", "labelFont": "DejaVu Sans Mono", "labelFontSize": 19, "labelFontWeight": "bold", "labelColor": "#111", "labelFlush": false, "labelOverlap": false, "labelBound": false}},
    "x2": {"field": "e"},
    "y": {"field": "k", "type": "nominal", "scale": {"paddingInner": 0, "paddingOuter": 0},
          "axis": {"labels": false, "ticks": false, "domain": false, "title": "Alu", "titleAngle": 0, "titleAlign": "right", "titleBaseline": "middle", "titleFontSize": 33, "titleFontStyle": "italic", "titleFontWeight": "normal", "titlePadding": 56}}}},
  {"data": {"name": "zoomlines"},
   "mark": {"type": "rule", "color": "#8a8a8a", "strokeWidth": 1.2},
   "encoding": {"x": {"field": "p", "type": "quantitative", "scale": {"domain": [207492700, 207536900], "nice": false, "zero": false}}}},
  {"data": {"name": "redbox"},
   "mark": {"type": "rule", "color": "#ff1a1a", "strokeWidth": 4},
   "encoding": {"x": {"field": "p", "type": "quantitative", "scale": {"domain": [207492700, 207536900], "nice": false, "zero": false}}}}
 ]},
{"width": 1566, "height": 45,
 "title": {"text": "Chromosome 1", "orient": "left", "angle": 0, "align": "left", "baseline": "middle", "anchor": "middle", "frame": "group", "fontSize": 33, "fontWeight": "normal", "offset": 54, "dy": 7},
 "layer": [
  {"data": {"name": "zoomlines"},
   "mark": {"type": "rule", "color": "#8a8a8a", "strokeWidth": 1.2},
   "encoding": {"x": {"field": "p", "type": "quantitative", "scale": {"domain": [207492700, 207536900], "nice": false, "zero": false},
     "axis": {"orient": "top", "offset": -45, "title": null, "grid": false, "labels": false,
       "values": [207493000,207494000,207495000,207496000,207497000,207498000,207499000,207500000,207501000,207502000,207503000,207504000,207505000,207506000,207507000,207508000,207509000,207510000,207511000,207512000,207513000,207514000,207515000,207516000,207517000,207518000,207519000,207520000,207521000,207522000,207523000,207524000,207525000,207526000,207527000,207528000,207529000,207530000,207531000,207532000,207533000,207534000,207535000,207536000],
       "tickSize": {"condition": {"test": "datum.value % 10000 == 0", "value": 8}, "value": 5},
       "tickColor": "#000", "tickWidth": 1.5, "domainColor": "#000", "domainWidth": 3.5}}}},
  {"data": {"name": "redbox"},
   "mark": {"type": "rule", "color": "#ff1a1a", "strokeWidth": 4},
   "encoding": {"x": {"field": "p", "type": "quantitative", "scale": {"domain": [207492700, 207536900], "nice": false, "zero": false}}}}
 ]},
{"width": 1566, "height": 16, "data": {"name": "redbox"},
 "mark": {"type": "rule", "color": "#ff1a1a", "strokeWidth": 4},
 "encoding": {"x": {"field": "p", "type": "quantitative", "scale": {"domain": [207492700, 207536900], "nice": false, "zero": false}, "axis": null}}}
]
}
],
"config": {
 "view": {"stroke": null},
 "font": "Liberation Sans",
 "axis": {"grid": false, "labelColor": "#1a1a1a", "titleColor": "#1a1a1a", "labelFont": "Liberation Sans", "titleFont": "Liberation Sans"},
 "title": {"font": "Liberation Sans", "color": "#1a1a1a"},
 "text": {"font": "Liberation Sans"}
}
}
